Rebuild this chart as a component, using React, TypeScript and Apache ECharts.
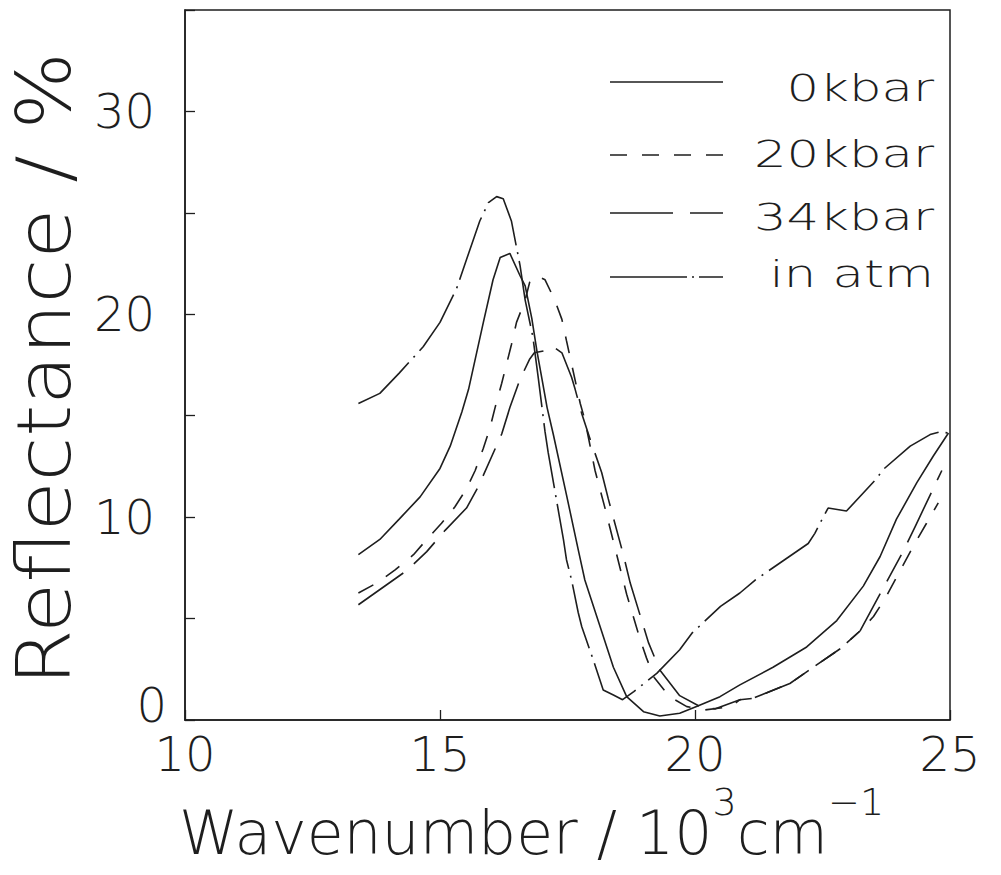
import React, { useEffect, useRef } from "react";
import * as echarts from "echarts";

// ---- data (wavenumber in 10^3 cm^-1, reflectance in %) ----
const kbar0X = [13.4, 13.82, 14.2, 14.61, 15.0, 15.2, 15.43, 15.56, 15.85, 16.04, 16.18, 16.37, 16.57, 16.67, 16.8, 16.9, 17.0, 17.1, 17.22, 17.48, 17.71, 17.84, 18.14, 18.4, 18.66, 18.99, 19.31, 19.7, 20.03, 20.49, 20.88, 21.53, 22.19, 22.78, 23.3, 23.63, 23.95, 24.35, 24.67, 24.97];
const kbar0Y = [8.15, 8.9, 9.9, 11.0, 12.4, 13.5, 15.2, 16.3, 19.6, 21.7, 22.8, 23.0, 21.9, 21.4, 19.8, 18.2, 16.8, 15.4, 14.1, 11.1, 8.4, 6.9, 4.6, 2.6, 1.15, 0.41, 0.2, 0.33, 0.66, 1.15, 1.73, 2.6, 3.6, 4.9, 6.6, 8.06, 9.9, 11.7, 13.0, 14.15];

const kbar20X = [13.4, 13.76, 14.12, 14.48, 14.74, 15.03, 15.29, 15.52, 15.69, 15.85, 15.98, 16.08, 16.21, 16.3, 16.4, 16.5, 16.67, 16.76, 16.9, 17.06, 17.25, 17.39, 17.48, 17.75, 17.84, 18.04, 18.24, 18.46, 18.66, 18.92, 19.05, 19.2, 19.5, 19.84, 20.2, 20.7, 20.88, 21.14, 21.86, 22.32, 22.84, 23.24, 23.5, 23.73, 24.31, 24.54, 24.77];
const kbar20Y = [6.26, 6.75, 7.4, 8.15, 8.9, 9.7, 10.5, 11.4, 12.3, 13.4, 14.4, 15.4, 16.6, 17.5, 18.5, 19.6, 20.7, 21.6, 21.9, 21.7, 20.7, 19.75, 18.7, 15.6, 14.8, 12.3, 10.4, 8.2, 6.2, 4.0, 3.05, 2.1, 1.15, 0.66, 0.5, 0.66, 1.0, 1.07, 1.8, 2.6, 3.5, 4.4, 5.1, 6.0, 8.7, 9.7, 10.7];

const kbar34X = [13.4, 14.35, 14.74, 15.1, 15.52, 15.75, 16.21, 16.37, 16.57, 16.76, 16.85, 17.05, 17.22, 17.39, 17.58, 17.65, 17.78, 17.95, 18.17, 18.3, 18.6, 18.73, 19.09, 19.31, 19.7, 20.1, 20.4, 20.88, 21.14, 21.86, 22.32, 22.84, 23.24, 23.56, 24.08, 24.31, 24.84];
const kbar34Y = [5.68, 7.37, 8.3, 9.35, 10.45, 11.5, 14.1, 15.4, 16.8, 17.8, 18.1, 18.2, 18.4, 18.1, 16.9, 16.3, 15.1, 13.8, 12.2, 10.9, 8.1, 6.75, 3.8, 2.47, 1.2, 0.66, 0.55, 1.0, 1.07, 1.8, 2.6, 3.5, 4.4, 5.9, 8.3, 9.5, 12.3];

const atmX = [13.4, 13.82, 14.2, 14.67, 15.0, 15.33, 15.52, 15.78, 15.95, 16.11, 16.24, 16.4, 16.57, 16.67, 16.82, 16.93, 17.06, 17.12, 17.35, 17.42, 17.48, 17.58, 17.71, 17.78, 18.0, 18.2, 18.4, 18.58, 18.8, 19.25, 19.7, 19.94, 20.5, 20.88, 21.18, 22.22, 22.35, 22.45, 22.61, 22.97, 23.56, 23.69, 24.22, 24.61, 24.8, 24.97];
const atmY = [15.6, 16.1, 17.1, 18.4, 19.6, 21.3, 22.7, 24.6, 25.5, 25.8, 25.7, 24.6, 22.4, 20.7, 18.9, 16.8, 14.2, 13.2, 9.9, 8.9, 7.9, 6.9, 5.3, 4.6, 3.0, 1.48, 1.23, 1.0, 1.4, 2.3, 3.46, 4.28, 5.6, 6.26, 6.9, 8.7, 9.2, 9.7, 10.45, 10.3, 11.9, 12.35, 13.5, 14.07, 14.2, 14.15];

const seriesNames = ["0kbar", "20kbar", "34kbar", "in atm"];
const xTicks = [10, 15, 20, 25];
const yTickLabels = [0, 10, 20, 30];
const yTitle = "Reflectance / %";

const FONT = '"DejaVu Sans", "Noto Sans", sans-serif';
const FW = 200;
const INK = "#1e1e1e";

const dashes: (number[] | "solid")[] = ["solid", [17, 15], [55, 14, 30, 14], [66, 7, 2, 7]];
const legendDashes: (number[] | null)[] = [null, [17, 15], [63, 17, 33, 20], [77, 5, 2, 5]];

const zip = (xs: number[], ys: number[]) => xs.map((x, i) => [x, ys[i]]);

export default function App() {
  const ref = useRef<HTMLDivElement>(null);
  useEffect(() => {
    if (!ref.current) return;
    const chart = echarts.init(ref.current, undefined, { renderer: "svg" });
    const datasets = [zip(kbar0X, kbar0Y), zip(kbar20X, kbar20Y), zip(kbar34X, kbar34Y), zip(atmX, atmY)];

    const legendLineY = [82, 155, 213, 277];
    const legendTextY = [103, 169, 232, 289];
    const graphics: any[] = [];
    seriesNames.forEach((n, i) => {
      graphics.push({
        type: "line",
        shape: { x1: 610, y1: legendLineY[i], x2: 723, y2: legendLineY[i] },
        style: { stroke: INK, lineWidth: 1.6, lineDash: legendDashes[i] },
      });
      graphics.push({
        type: "text",
        x: 934,
        y: legendTextY[i] + 4,
        scaleX: 1.35,
        style: { text: n, align: "right", verticalAlign: "bottom", fontFamily: FONT, fontWeight: FW, fontSize: 38, fill: INK },
      });
    });
    // y-axis title (rotated, slightly stretched like the plotter lettering)
    graphics.push({
      type: "text",
      x: 44,
      y: 369,
      rotation: Math.PI / 2,
      scaleX: 1.1,
      style: { text: yTitle, align: "center", verticalAlign: "middle", fontFamily: FONT, fontWeight: FW, fontSize: 74, fill: INK },
    });

    const tickFont = { fontFamily: FONT, fontWeight: FW, fontSize: 48, color: INK };

    chart.setOption({
      animation: false,
      backgroundColor: "#ffffff",
      grid: {
        left: 185,
        right: 51,
        top: 10,
        bottom: 155,
        containLabel: false,
        outerBoundsMode: "none",
        show: true,
        borderColor: INK,
        borderWidth: 1.5,
      },
      xAxis: {
        type: "value",
        min: 10,
        max: 25,
        interval: 5,
        axisLine: { show: true, lineStyle: { color: INK, width: 1.5 } },
        axisTick: { show: true, inside: true, length: 10, lineStyle: { color: INK, width: 1.3 } },
        splitLine: { show: false },
        axisLabel: {
          margin: 10,
          ...tickFont,
          showMinLabel: true,
          showMaxLabel: true,
          formatter: (v: number) => (xTicks.includes(v) ? String(v) : ""),
        },
        name: "{a|Wavenumber / 10}{s|3}{a|cm}{s|−1}",
        nameLocation: "middle",
        nameGap: 62,
        nameTextStyle: {
          padding: [0, 72, 0, 0],
          rich: {
            a: { fontFamily: FONT, fontWeight: FW, fontSize: 60, color: INK, lineHeight: 80, verticalAlign: "bottom" },
            s: { fontFamily: FONT, fontWeight: FW, fontSize: 38, color: INK, verticalAlign: "top" },
          },
        },
      },
      yAxis: {
        type: "value",
        min: 0,
        max: 35,
        interval: 5,
        axisLine: { show: true, lineStyle: { color: INK, width: 1.5 } },
        axisTick: { show: true, inside: true, length: 10, lineStyle: { color: INK, width: 1.3 } },
        splitLine: { show: false },
        axisLabel: {
          margin: 18,
          ...tickFont,
          formatter: (v: number) =>
            v === 0 ? "{z|0}" : yTickLabels.includes(v) ? "{n|" + v + "}" : "",
          rich: {
            n: { ...tickFont, padding: [0, 12, 0, 0] },
            z: { ...tickFont, padding: [0, 0, 30, 0] },
          },
        },
      },
      graphic: graphics,
      series: seriesNames.map((n, i) => ({
        name: n,
        type: "line",
        data: datasets[i],
        showSymbol: false,
        symbol: "none",
        smooth: false,
        lineStyle: { color: INK, width: 1.6, type: dashes[i] },
        emphasis: { disabled: true },
      })),
    });
    return () => chart.dispose();
  }, []);
  return <div ref={ref} style={{ width: 1001, height: 875, position: "absolute", left: 0, top: 0 }} />;
}
